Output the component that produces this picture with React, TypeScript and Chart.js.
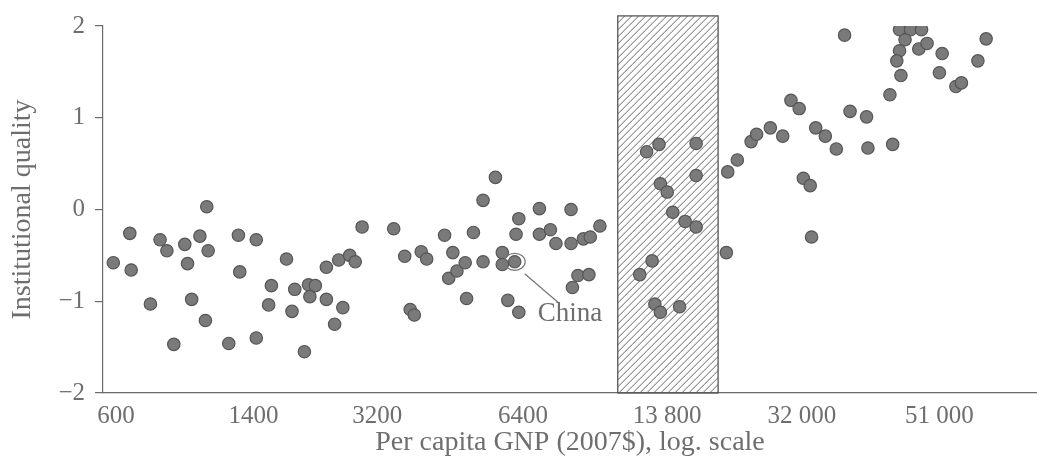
import React, { useEffect, useRef } from 'react';
import { Chart, registerables } from 'chart.js';

Chart.register(...registerables);

// X axis: evenly spaced GNP labels (positions in axis units)
const xTickLabels = ['600', '1400', '3200', '6400', '13 800', '32 000', '51 000'];
const xTickPositions = [0, 1.0, 1.9, 2.96, 4.01, 4.99, 5.99];

// Y axis ticks
const yTicks = [-2, -1, 0, 1, 2];

// Country positions along the GNP axis (axis units)
const gnpPos = [
  -0.02, 0.10, 0.11, 0.25, 0.32, 0.37, 0.42, 0.50, 0.52, 0.55,
  0.61, 0.65, 0.66, 0.67, 0.82, 0.89, 0.90, 1.02, 1.02, 1.11,
  1.13, 1.24, 1.28, 1.30, 1.37, 1.40, 1.45, 1.41, 1.53, 1.53,
  1.59, 1.62, 1.65, 1.70, 1.74, 1.79, 2.02, 2.10, 2.14, 2.17,
  2.22, 2.26, 2.39, 2.42, 2.45, 2.48, 2.54, 2.55, 2.60, 2.67,
  2.67, 2.76, 2.81, 2.81, 2.85, 2.90, 2.93, 2.91, 2.93, 3.08,
  3.08, 3.16, 3.20, 3.31, 3.31, 3.32, 3.36, 3.40, 3.44, 3.45,
  3.52, 3.86, 3.95, 4.22, 4.22, 3.96, 4.01, 4.05, 4.14, 4.22,
  3.90, 3.81, 3.92, 3.96, 4.10, 4.45, 4.52, 4.44, 4.62, 4.66,
  4.76, 4.85, 4.91, 4.97, 5.00, 5.05, 5.06, 5.09, 5.16, 5.24,
  5.30, 5.34, 5.46, 5.47, 5.63, 5.65, 5.70, 5.78, 5.86, 5.74,
  5.70, 5.68, 5.71, 5.84, 5.90, 6.01, 5.99, 6.11, 6.15, 6.27, 6.33,
];

// Institutional quality index
const quality = [
  -0.58, -0.26, -0.66, -1.03, -0.33, -0.45, -1.47, -0.38, -0.59, -0.98,
  -0.29, -1.21, 0.03, -0.45, -1.46, -0.28, -0.68, -0.33, -1.40, -1.04,
  -0.83, -0.54, -1.11, -0.87, -1.55, -0.82, -0.83, -0.95, -0.63, -0.98,
  -1.25, -0.55, -1.07, -0.50, -0.57, -0.19, -0.21, -0.51, -1.09, -1.15,
  -0.46, -0.54, -0.28, -0.75, -0.47, -0.67, -0.58, -0.97, -0.25, 0.10,
  -0.57, 0.35, -0.47, -0.60, -0.99, -0.57, -0.10, -0.27, -1.12, 0.01,
  -0.27, -0.22, -0.37, 0.00, -0.37, -0.85, -0.72, -0.32, -0.71, -0.30,
  -0.18, 0.63, 0.71, 0.72, 0.37, 0.28, 0.19, -0.03, -0.13, -0.19,
  -0.56, -0.71, -1.03, -1.12, -1.06, 0.41, 0.54, -0.47, 0.74, 0.82,
  0.89, 0.80, 1.19, 1.10, 0.34, 0.26, -0.30, 0.89, 0.80, 0.66,
  1.90, 1.07, 1.01, 0.67, 1.25, 0.71, 1.96, 1.96, 1.96, 1.85,
  1.73, 1.62, 1.46, 1.75, 1.81, 1.70, 1.49, 1.34, 1.38, 1.62, 1.86,
];

// China highlight
const chinaLabel = 'China';
const chinaX = 2.90;
const chinaY = -0.57;

// Hatched "middle-income" band
const bandRange = [3.65, 4.38];
const bandTop = 2.11;

const SERIF = '"Liberation Serif", "DejaVu Serif", serif';
const TEXT = '#6e6e6e';
const AXIS = '#6a6a6a';

const bandPlugin = {
  id: 'hatchBand',
  beforeDatasetsDraw(chart: any) {
    const { ctx, scales } = chart;
    const x = scales.x, y = scales.y;
    const l = x.getPixelForValue(bandRange[0]);
    const r = x.getPixelForValue(bandRange[1]);
    const t = y.getPixelForValue(bandTop);
    const b = y.getPixelForValue(-2);
    const h = b - t;
    ctx.save();
    ctx.beginPath();
    ctx.rect(l, t, r - l, h);
    ctx.clip();
    ctx.strokeStyle = '#666';
    ctx.lineWidth = 1;
    const step = 7;
    for (let k = l - h; k < r + step; k += step) {
      ctx.beginPath();
      ctx.moveTo(k, b);
      ctx.lineTo(k + h, t);
      ctx.stroke();
    }
    ctx.restore();
    ctx.save();
    ctx.strokeStyle = '#555';
    ctx.lineWidth = 1.3;
    ctx.strokeRect(l, t, r - l, h);
    ctx.restore();
  },
};

const chinaPlugin = {
  id: 'chinaNote',
  afterDatasetsDraw(chart: any) {
    const { ctx, scales } = chart;
    const px = scales.x.getPixelForValue(chinaX);
    const py = scales.y.getPixelForValue(chinaY);
    ctx.save();
    ctx.strokeStyle = '#777';
    ctx.lineWidth = 1.2;
    ctx.beginPath();
    ctx.ellipse(px, py, 10.5, 8.5, 0, 0, Math.PI * 2);
    ctx.stroke();
    ctx.beginPath();
    ctx.moveTo(px + 10, py + 12);
    ctx.lineTo(px + 45, py + 42);
    ctx.stroke();
    ctx.fillStyle = TEXT;
    ctx.font = `27px ${SERIF}`;
    ctx.textAlign = 'left';
    ctx.textBaseline = 'middle';
    ctx.fillText(chinaLabel, px + 23, py + 52);
    ctx.restore();
  },
};

export default function App() {
  const ref = useRef<HTMLCanvasElement>(null);

  useEffect(() => {
    if (!ref.current) return;
    const points = gnpPos.map((x, i) => ({ x, y: quality[i] }));
    const chart = new Chart(ref.current, {
      type: 'scatter',
      data: {
        datasets: [
          {
            data: points,
            backgroundColor: '#7a7a7a',
            borderColor: '#565656',
            borderWidth: 1.2,
            pointRadius: 6.2,
            pointHoverRadius: 6.2,
          },
        ],
      },
      options: {
        animation: false,
        responsive: false,
        events: [],
        layout: { autoPadding: false, padding: { top: 26, right: 0, bottom: 0, left: 0 } },
        plugins: {
          legend: { display: false },
          tooltip: { enabled: false },
        },
        scales: {
          x: {
            type: 'linear',
            min: -0.095,
            max: 6.7,
            afterBuildTicks: (s: any) => {
              s.ticks = xTickPositions.map((v) => ({ value: v }));
            },
            afterFit: (s: any) => {
              s.height = 70;
              s.paddingLeft = 0;
              s.paddingRight = 0;
            },
            ticks: {
              autoSkip: false,
              maxRotation: 0,
              padding: 8,
              color: TEXT,
              font: { family: SERIF, size: 25 },
              callback: (_v: any, i: number) => xTickLabels[i],
            },
            grid: { drawOnChartArea: false, drawTicks: false },
            border: { color: AXIS, width: 1.2 },
            title: {
              display: true,
              text: 'Per capita GNP (2007$), log. scale',
              color: TEXT,
              font: { family: SERIF, size: 28 },
              padding: { top: 0, bottom: 4 },
            },
          },
          y: {
            type: 'linear',
            min: -2,
            max: 2,
            afterBuildTicks: (s: any) => {
              s.ticks = yTicks.map((v) => ({ value: v }));
            },
            afterFit: (s: any) => {
              s.width = 103;
              s.paddingTop = 0;
              s.paddingBottom = 0;
            },
            ticks: {
              padding: 10,
              color: TEXT,
              font: { family: SERIF, size: 25 },
              callback: (v: any) => (v < 0 ? '\u2212' + Math.abs(v) : String(v)),
            },
            grid: {
              drawOnChartArea: false,
              drawTicks: true,
              tickLength: 8,
              color: AXIS,
              lineWidth: 1.2,
            },
            border: { color: AXIS, width: 1.2 },
            title: {
              display: true,
              text: 'Institutional quality',
              color: TEXT,
              font: { family: SERIF, size: 28 },
              padding: { top: 6, bottom: 0 },
            },
          },
        },
      },
      plugins: [bandPlugin, chinaPlugin],
    });
    return () => chart.destroy();
  }, []);

  return (
    <div style={{ position: 'absolute', left: 0, top: 0, width: 1037, height: 463, background: '#fff' }}>
      <canvas ref={ref} width={1037} height={463} style={{ display: 'block' }} />
    </div>
  );
}
